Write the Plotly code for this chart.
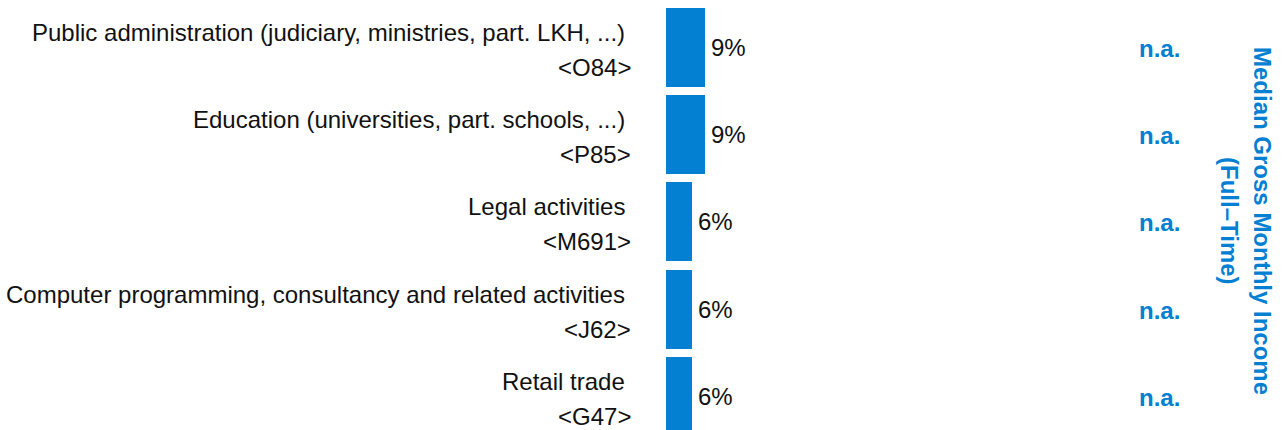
import plotly.graph_objects as go

# ---- data ----
category_names = [
    "Public administration (judiciary, ministries, part. LKH, ...)",
    "Education (universities, part. schools, ...)",
    "Legal activities",
    "Computer programming, consultancy and related activities",
    "Retail trade",
]
category_codes = ["<O84>", "<P85>", "<M691>", "<J62>", "<G47>"]
share_pct = [9, 9, 6, 6, 6]
median_income = ["n.a.", "n.a.", "n.a.", "n.a.", "n.a."]
income_title_lines = ["Median Gross Monthly Income", "(Full\u2013Time)"]

BLUE = "#0380D2"
FONT = "Liberation Sans, Arial, Helvetica, sans-serif"
FS = 24

W, H = 1282, 430
PLOT_L = 666   # page x of value 0
PLOT_W = 430   # px for 0..100 %
BAND = 87.3    # px per category
FIRST_C = 47.2 # page y of first category centre

positions = list(range(len(category_names)))

fig = go.Figure()
fig.add_trace(go.Bar(
    x=share_pct,
    y=positions,
    orientation="h",
    marker=dict(color=BLUE, line=dict(width=0)),
    width=0.905,
    hoverinfo="skip",
    showlegend=False,
))

def esc(s):
    return s.replace("<", "&lt;").replace(">", "&gt;")

annotations = []
for i, (name, code, val, inc) in enumerate(zip(category_names, category_codes, share_pct, median_income)):
    annotations.append(dict(
        text=esc(name),
        xref="paper", x=0, xanchor="right", xshift=-39,
        yref="y", y=i, yanchor="middle", yshift=15,
        showarrow=False, font=dict(family=FONT, size=FS, color="#111111"),
    ))
    annotations.append(dict(
        text=esc(code),
        xref="paper", x=0, xanchor="right", xshift=-33,
        yref="y", y=i, yanchor="middle", yshift=-20,
        showarrow=False, font=dict(family=FONT, size=FS, color="#111111"),
    ))
    annotations.append(dict(
        text=f"{val}%",
        xref="x", x=val, xanchor="left", xshift=4,
        yref="y", y=i, yanchor="middle", yshift=0,
        showarrow=False, font=dict(family=FONT, size=FS, color="#111111"),
    ))
    annotations.append(dict(
        text=f"<b>{inc}</b>",
        xref="paper", x=(1159 - PLOT_L) / PLOT_W, xanchor="center",
        yref="y", y=i, yanchor="middle", yshift=-1,
        showarrow=False, font=dict(family=FONT, size=FS, color=BLUE),
    ))

title_x = [(1262 - PLOT_L) / PLOT_W, (1229 - PLOT_L) / PLOT_W]
for line, tx in zip(income_title_lines, title_x):
    annotations.append(dict(
        text=f"<b>{line}</b>",
        xref="paper", x=tx, xanchor="center",
        yref="paper", y=1 - 221 / H, yanchor="middle",
        textangle=90,
        showarrow=False, font=dict(family=FONT, size=FS, color=BLUE),
    ))

fig.update_layout(
    width=W, height=H,
    margin=dict(l=PLOT_L, r=W - PLOT_L - PLOT_W, t=0, b=0, pad=0),
    paper_bgcolor="white", plot_bgcolor="white",
    xaxis=dict(range=[0, 100], visible=False, fixedrange=True),
    yaxis=dict(range=[(H - FIRST_C) / BAND, (0 - FIRST_C) / BAND], visible=False, fixedrange=True),
    bargap=0,
    annotations=annotations,
    font=dict(family=FONT, size=FS),
)

fig.write_html(
    "out.html",
    config={"displayModeBar": False},
    post_script="document.body.style.margin='0px';document.body.style.overflow='hidden';",
)
